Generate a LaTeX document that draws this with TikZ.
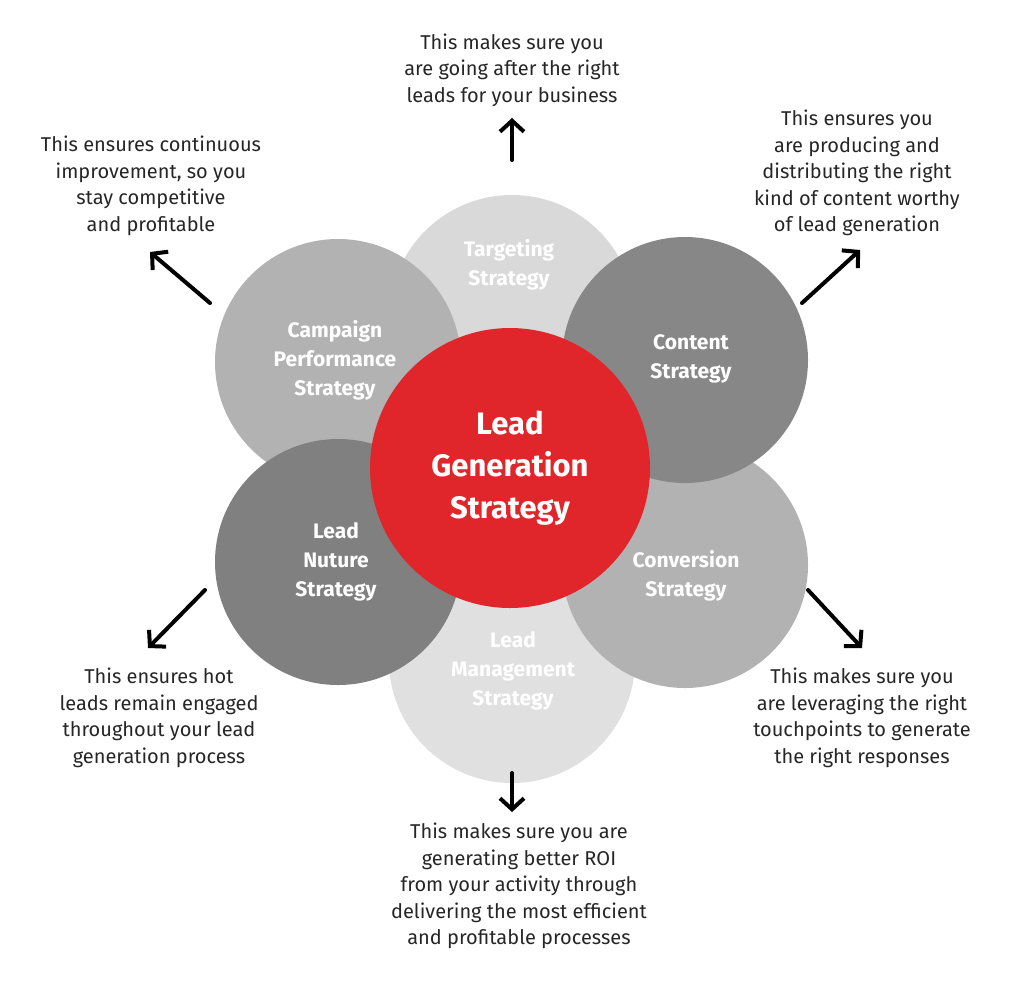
\documentclass[tikz,border=0pt]{standalone}
\usepackage{fontspec}
\setmainfont{Fira Sans}
\usetikzlibrary{arrows.meta}
\definecolor{leadred}{HTML}{E0262B}
\tikzset{petal/.style={circle,minimum size=246pt,inner sep=0pt},
    petal text/.style={text=white,font=\fontsize{21}{29}\selectfont\bfseries,align=center},
    note/.style={align=center,font=\fontsize{20}{26.5}\selectfont,text=black!85},
    pointer/.style={-{Straight Barb[length=11pt,width=24pt]},line width=4pt,line cap=round}}
\begin{document}
\begin{tikzpicture}[x=1pt,y=-1pt]
\useasboundingbox (0,0) rectangle (1024,983);
% petals, back to front
\node[petal,fill=black!15] (target) at (512,318) {};
\node[petal,fill=black!12] (manage) at (512,660) {};
\node[petal,fill=black!30] (campaign) at (338,362) {};
\node[petal,fill=black!30] (convert) at (685,565) {};
\node[petal,fill=black!50] (nurture) at (338,562) {};
\node[petal,fill=black!47] (content) at (685,360) {};
\node[circle,minimum size=280pt,inner sep=0pt,fill=leadred] (lead) at (510,468) {};
% petal labels
\node[petal text] (targett) at (509,265) {Targeting\\Strategy};
\node[petal text] (contentt) at (691,359) {Content\\Strategy};
\node[petal text] (convertt) at (686,576) {Conversion\\Strategy};
\node[petal text] (managet) at (513,671) {Lead\\Management\\Strategy};
\node[petal text] (nurturet) at (336,562) {Lead\\Nuture\\Strategy};
\node[petal text] (campaignt) at (335,360) {Campaign\\Performance\\Strategy};
\node[text=white,font=\fontsize{31}{42}\selectfont\bfseries,align=center] (leadt) at (510,468) {Lead\\Generation\\Strategy};
% notes
\node[note] (ntarget) at (512,70) {This makes sure you\\are going after the right\\leads for your business};
\node[note] (ncontent) at (857,173) {This ensures you\\are producing and\\distributing the right\\kind of content worthy\\of lead generation};
\node[note] (ncampaign) at (151,186) {This ensures continuous\\improvement, so you\\stay competitive\\and profitable};
\node[note] (nconvert) at (862,718) {This makes sure you\\are leveraging the right\\touchpoints to generate\\the right responses};
\node[note] (nnurture) at (159,718) {This ensures hot\\leads remain engaged\\throughout your lead\\generation process};
\node[note] (nmanage) at (519,886) {This makes sure you are\\generating better ROI\\from your activity through\\delivering the most efficient\\and profitable processes};
% pointers
\coordinate (a1) at (512,160); \coordinate (b1) at (512,118);
\coordinate (a2) at (802,303); \coordinate (b2) at (860,250);
\coordinate (a3) at (808,590); \coordinate (b3) at (862,648);
\coordinate (a4) at (512,773); \coordinate (b4) at (512,812);
\coordinate (a5) at (205,590); \coordinate (b5) at (148,648);
\coordinate (a6) at (210,303); \coordinate (b6) at (150,252);
\foreach \i in {1,...,6}
  \draw[pointer] (a\i) -- (b\i);
\end{tikzpicture}
\end{document}
